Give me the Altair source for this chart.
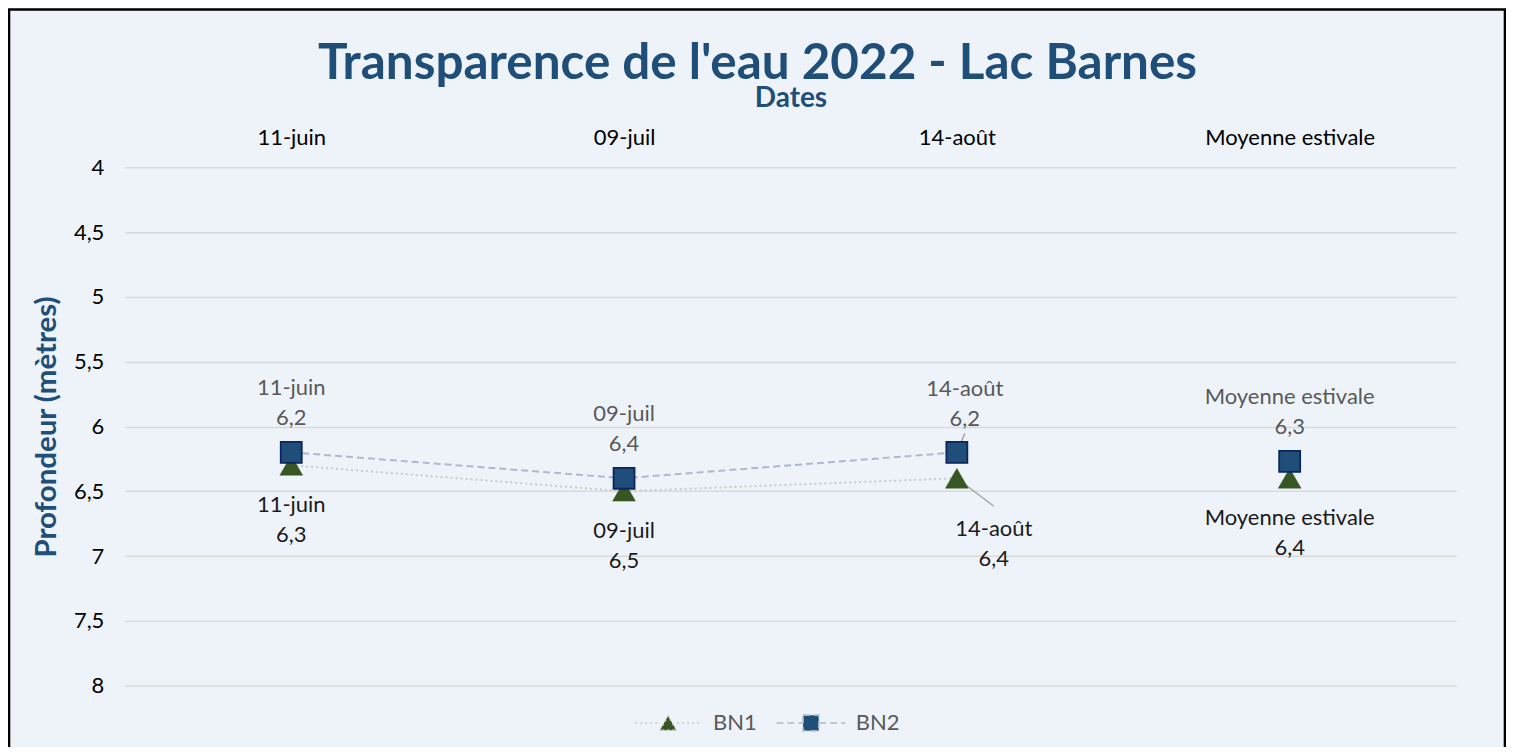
import altair as alt
import pandas as pd

# ---- data ----
dates = ["11-juin", "09-juil", "14-août", "Moyenne estivale"]
bn1 = [6.3, 6.5, 6.4, 6.4]
bn2 = [6.2, 6.4, 6.2, 6.27]
series = ["BN1", "BN2"]
y_ticks = [4, 4.5, 5, 5.5, 6, 6.5, 7, 7.5, 8]

rows = []
for s, vals in zip(series, [bn1, bn2]):
    for i, (d, v) in enumerate(zip(dates, vals)):
        rows.append({
            "date": d, "series": s, "value": v, "idx": i,
            "label": f"{d}\n{v:.1f}".replace(".", ","),
        })
df = pd.DataFrame(rows)

FONT = "Lato"
BLUE_T = "#1F4E79"
GREEN = "#375623"
SQ_FILL = "#1F4E79"
SQ_STROKE = "#0B2560"
LINE1 = "#C5CEC2"
LINE2 = "#ADB9CA"
FS = 22

W, H = 1333, 519

x_enc = alt.X(
    "date:N", sort=dates,
    scale=alt.Scale(type="point", padding=0.5, domain=dates),
    axis=alt.Axis(orient="top", title="Dates", titleFontSize=28, titleFontWeight="bold",
                  titleColor=BLUE_T, titleFont=FONT, titlePadding=14,
                  labelFontSize=FS, labelColor="#000000", labelFont=FONT,
                  labelPadding=18, ticks=False, tickSize=0, domain=False, grid=False,
                  labelAngle=0),
)
y_enc = alt.Y(
    "value:Q",
    scale=alt.Scale(domain=[4, 8], reverse=True, nice=False, zero=False),
    axis=alt.Axis(values=y_ticks, title="Profondeur (mètres)", titleFontSize=29.5,
                  titleFontWeight="bold", titleColor=BLUE_T, titleFont=FONT,
                  titlePadding=12, labelFontSize=FS, labelColor="#000000", labelFont=FONT,
                  labelPadding=21, labelExpr="replace(toString(datum.value), '.', ',')",
                  ticks=False, tickSize=0, domain=False, grid=True, gridColor="#D9D9D9",
                  gridWidth=1.5),
)

leg_def = alt.Legend(title=None, orient="none", direction="horizontal",
                     legendX=533, legendY=545, symbolSize=225, symbolOpacity=1,
                     labelFontSize=FS, labelColor="#595959", labelFont=FONT,
                     labelOffset=34, columnPadding=16, padding=0,
                     symbolStrokeWidth=1.6)

stroke_scale = alt.Scale(domain=series, range=[LINE1, LINE2])
dash_scale = alt.Scale(domain=series, range=[[2, 3], [7, 4]])

base = alt.Chart(df)

lines = base.transform_filter(alt.datum.date != "Moyenne estivale").mark_line(strokeWidth=2).encode(
    x=x_enc, y=y_enc,
    stroke=alt.Stroke("series:N", scale=stroke_scale, legend=leg_def),
    strokeDash=alt.StrokeDash("series:N", scale=dash_scale, legend=leg_def),
    order=alt.Order("idx:Q"),
    detail="series:N",
)

# leader lines for the 14-août labels
lead2 = base.transform_filter((alt.datum.date == "14-août") & (alt.datum.series == "BN2")).mark_rule(
    color="#A6A6A6", strokeWidth=1.5, x2Offset=8, y2Offset=-19).encode(
    x=x_enc, y=y_enc, x2=alt.X2("date:N"), y2=alt.Y2("value"))
lead1 = base.transform_filter((alt.datum.date == "14-août") & (alt.datum.series == "BN1")).mark_rule(
    color="#A6A6A6", strokeWidth=1.5, x2Offset=37, y2Offset=28).encode(
    x=x_enc, y=y_enc, x2=alt.X2("date:N"), y2=alt.Y2("value"))

pts1 = base.transform_filter(alt.datum.series == "BN1").mark_point(
    shape="triangle-up", filled=True, fill=GREEN, stroke=GREEN, strokeWidth=0.5,
    size=520, opacity=1).encode(x=x_enc, y=y_enc)
pts2 = base.transform_filter(alt.datum.series == "BN2").mark_point(
    shape="square", filled=True, fill=SQ_FILL, stroke=SQ_STROKE, strokeWidth=1.8,
    size=441, opacity=1).encode(x=x_enc, y=y_enc)

txt_common = dict(font=FONT, fontSize=FS, lineBreak="\n", lineHeight=30,
                  align="center", baseline="middle")

lab2 = base.transform_filter((alt.datum.series == "BN2") & (alt.datum.date != "14-août")).mark_text(
    color="#595959", dy=-64, **txt_common).encode(x=x_enc, y=y_enc, text="label:N")
lab2s = base.transform_filter((alt.datum.series == "BN2") & (alt.datum.date == "14-août")).mark_text(
    color="#595959", dy=-63, dx=8, **txt_common).encode(x=x_enc, y=y_enc, text="label:N")
lab1 = base.transform_filter((alt.datum.series == "BN1") & (alt.datum.date != "14-août")).mark_text(
    color="#1A1A1A", dy=40, **txt_common).encode(x=x_enc, y=y_enc, text="label:N")
lab1s = base.transform_filter((alt.datum.series == "BN1") & (alt.datum.date == "14-août")).mark_text(
    color="#1A1A1A", dy=51, dx=37, **txt_common).encode(x=x_enc, y=y_enc, text="label:N")

# legend-only layer (no visible marks)
p1 = "M-1.1,0.95 L0,-0.95 L1.1,0.95 Z M-4.4,0 L-1.2,0 M1.2,0 L4.4,0"
p2 = "M-1.05,-1.05 L1.05,-1.05 L1.05,1.05 L-1.05,1.05 Z M-4.6,0 L-1.1,0 M1.1,0 L4.6,0"
leg = base.transform_filter("false").mark_point(filled=False, strokeWidth=1.6, opacity=1).encode(
    x=x_enc, y=y_enc,
    shape=alt.Shape("series:N", scale=alt.Scale(domain=series, range=[p1, p2]), legend=leg_def),
    fill=alt.Fill("series:N", scale=alt.Scale(domain=series, range=[GREEN, SQ_FILL]), legend=leg_def),
    stroke=alt.Stroke("series:N", scale=stroke_scale, legend=leg_def),
    strokeDash=alt.StrokeDash("series:N", scale=dash_scale, legend=leg_def),
)

border = alt.Chart(pd.DataFrame({"k": [0]})).mark_rect(
    fill="transparent", stroke="#000000", strokeWidth=2.6).encode(
    x=alt.value(-116), x2=alt.value(W + 49), y=alt.value(-158), y2=alt.value(H + 120))

chart = alt.layer(lines, lead2, lead1, pts1, pts2, lab2, lab2s, lab1, lab1s, leg, border).properties(
    width=W, height=H,
    title=alt.TitleParams("Transparence de l'eau 2022 - Lac Barnes", fontSize=49.5, font=FONT,
                          fontWeight="bold", color=BLUE_T, anchor="middle", dx=-33, offset=-81),
    autosize=alt.AutoSizeParams(type="none"),
    padding={"left": 117, "top": 159, "right": 50, "bottom": 61},
).configure(background="#EEF3FA").configure_view(stroke=None)

chart.save("out.html", embed_options={"renderer": "svg", "actions": False})
